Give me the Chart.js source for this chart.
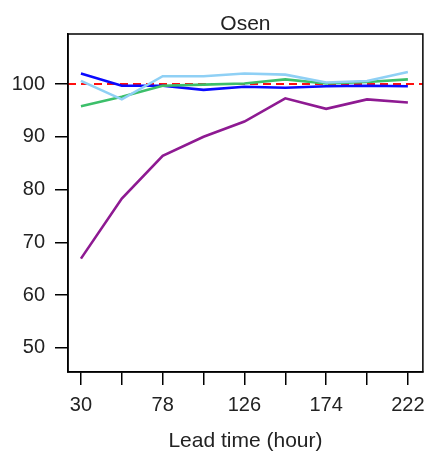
<!DOCTYPE html>
<html>
<head>
<meta charset="utf-8">
<script src="https://cdn.jsdelivr.net/npm/chart.js@4"></script>
<style>
  html, body { margin: 0; padding: 0; background: #fff; }
  #wrap { width: 433px; height: 455px; }
</style>
</head>
<body>
<div id="wrap"><canvas id="chart" width="433" height="455"></canvas></div>
<script>
// lead times (hours) and series
const leadTimes = [30, 54, 78, 102, 126, 150, 174, 198, 222];
const tickLabels = ['30', '', '78', '', '126', '', '174', '', '222'];
const yTicks = [50, 60, 70, 80, 90, 100];
const blueVals = [102.0, 99.7, 99.7, 98.9, 99.5, 99.3, 99.6, 99.7, 99.6];
const lightBlueVals = [100.6, 97.1, 101.5, 101.5, 102.0, 101.8, 100.3, 100.6, 102.3];
const greenVals = [95.8, 97.6, 99.7, 99.9, 100.1, 100.9, 100.1, 100.4, 100.9];
const purpleVals = [66.9, 78.3, 86.4, 90.0, 92.9, 97.3, 95.3, 97.1, 96.5];
const refValue = 100;

const xMin = 22.4, xMax = 230.8;
const yMin = 45.4, yMax = 109.5;

const pts = vals => vals.map((v, i) => ({ x: leadTimes[i], y: v }));

const FONT = { family: 'Liberation Sans, Arial, sans-serif', size: 20 };

function line(vals, color) {
  return {
    data: pts(vals),
    borderColor: color,
    borderWidth: 2.6,
    pointRadius: 0,
    tension: 0,
    fill: false,
  };
}

// plot box around the chart area
const boxPlugin = {
  id: 'box',
  afterDraw(chart) {
    const { ctx, chartArea: a } = chart;
    ctx.save();
    ctx.strokeStyle = '#000';
    ctx.lineWidth = 1.5;
    ctx.strokeRect(a.left, a.top, a.right - a.left, a.bottom - a.top);
    ctx.restore();
  }
};

new Chart(document.getElementById('chart'), {
  type: 'line',
  data: {
    datasets: [
      line(lightBlueVals, '#8fd0f5'),
      line(greenVals, '#3cbf6a'),
      line(blueVals, '#0a0aff'),
      line(purpleVals, '#8e1a92'),
      {
        data: [{ x: xMin, y: refValue }, { x: xMax, y: refValue }],
        borderColor: '#ff1010',
        borderWidth: 2,
        borderDash: [8, 5],
        pointRadius: 0,
        fill: false,
      },
    ]
  },
  options: {
    responsive: false,
    animation: false,
    layout: { padding: { left: 0, right: 9, top: 0, bottom: 0 } },
    plugins: {
      legend: { display: false },
      tooltip: { enabled: false },
      title: {
        display: true,
        text: 'Osen',
        fullSize: false,
        color: '#222',
        font: { ...FONT, size: 21, weight: 'normal', lineHeight: 0.8 },
        padding: { top: 15.6, bottom: 1.6 },
      },
    },
    scales: {
      x: {
        type: 'linear',
        min: xMin,
        max: xMax,
        afterBuildTicks: s => { s.ticks = leadTimes.map(v => ({ value: v })); },
        afterFit: s => { s.height = 83; },
        grid: { drawOnChartArea: false, drawTicks: true, tickLength: 13, color: '#000', lineWidth: 1.5 },
        border: { display: true, color: '#000', width: 1.5 },
        ticks: {
          color: '#222',
          font: FONT,
          padding: 8,
          maxRotation: 0,
          autoSkip: false,
          callback: (v, i) => tickLabels[i],
        },
        title: {
          display: true,
          text: 'Lead time (hour)',
          color: '#222',
          font: { ...FONT, size: 21 },
          padding: { top: 0, bottom: 1 },
        },
      },
      y: {
        min: yMin,
        max: yMax,
        afterBuildTicks: s => { s.ticks = yTicks.map(v => ({ value: v })); },
        afterFit: s => { s.width = 68; },
        grid: { drawOnChartArea: false, drawTicks: true, tickLength: 13, color: '#000', lineWidth: 1.5 },
        border: { display: true, color: '#000', width: 1.5 },
        ticks: { color: '#222', font: FONT, padding: 10 },
      },
    }
  },
  plugins: [boxPlugin]
});
</script>
</body>
</html>
